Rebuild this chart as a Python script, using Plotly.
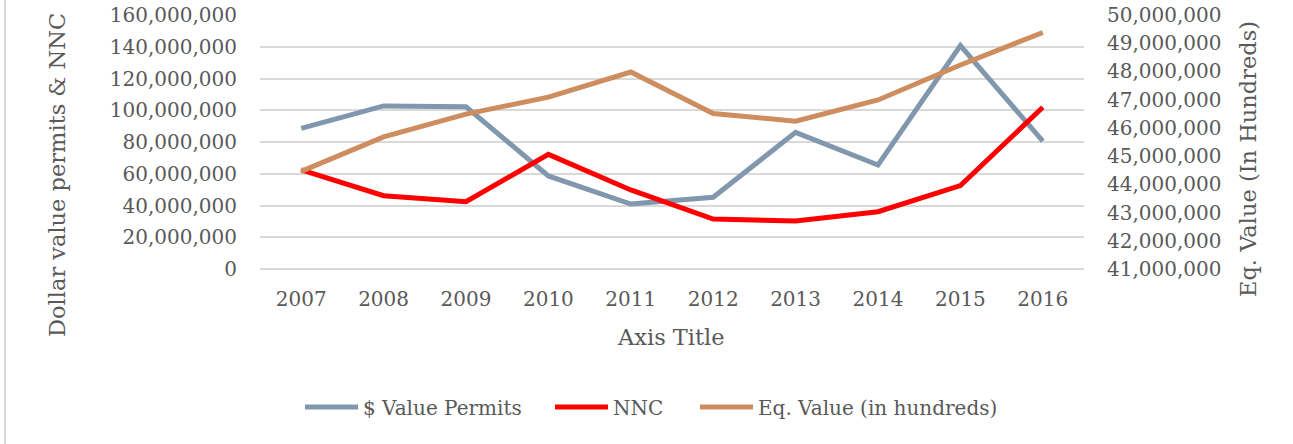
import plotly.graph_objects as go

years = ["2007", "2008", "2009", "2010", "2011", "2012", "2013", "2014", "2015", "2016"]
value_permits = [88600000, 102700000, 102200000, 58600000, 40900000, 45200000, 86100000, 65500000, 140700000, 80600000]
nnc = [62400000, 46200000, 42400000, 72200000, 49800000, 31500000, 30200000, 36100000, 52500000, 101900000]
eq_value = [44460000, 45680000, 46490000, 47090000, 47980000, 46510000, 46240000, 46990000, 48230000, 49380000]

FONT = "DejaVu Serif, Liberation Serif, serif"
TXT = "#595959"

W, H = 1293, 444
L, R, T, B = 260, 209, 15, 175
PW, PH = W - L - R, H - T - B


def px_x(px):
    return (px - L) / PW


def px_y(py):
    return ((T + PH) - py) / PH


fig = go.Figure()
fig.add_trace(go.Scatter(x=years, y=value_permits, name="$ Value Permits", mode="lines",
                         line=dict(color="#8097AD", width=5), legend="legend"))
fig.add_trace(go.Scatter(x=years, y=nnc, name="NNC", mode="lines",
                         line=dict(color="#FF0000", width=5), legend="legend2"))
fig.add_trace(go.Scatter(x=years, y=eq_value, name="Eq. Value (in hundreds)", mode="lines",
                         line=dict(color="#CD8D5F", width=5), yaxis="y2", legend="legend3"))

leg_common = dict(orientation="h", xanchor="left", yanchor="middle", itemwidth=53,
                  font=dict(size=20, color=TXT), bgcolor="rgba(0,0,0,0)")

fig.update_layout(
    width=W, height=H,
    margin=dict(l=L, r=R, t=T, b=B, autoexpand=False),
    paper_bgcolor="white", plot_bgcolor="white",
    font=dict(family=FONT, size=20, color=TXT),
    xaxis=dict(type="category", range=[-0.5, 9.5], showgrid=False, zeroline=False,
               showline=False, ticks="", ticklabelstandoff=16,
               tickfont=dict(size=20, color=TXT)),
    yaxis=dict(range=[0, 160000000], dtick=20000000, tickformat=",d",
               showgrid=True, gridcolor="#D9D9D9", gridwidth=1.5,
               zeroline=True, zerolinecolor="#D9D9D9", zerolinewidth=1.5,
               showline=False, ticks="", ticklabelstandoff=22,
               tickfont=dict(size=20, color=TXT)),
    yaxis2=dict(range=[41000000, 50000000], dtick=1000000, tickformat=",d",
                overlaying="y", side="right", showgrid=False, zeroline=False,
                showline=False, ticks="", ticklabelstandoff=22,
                tickfont=dict(size=20, color=TXT)),
    showlegend=True,
    legend=dict(x=px_x(305 - 5), y=px_y(407), **leg_common),
    legend2=dict(x=px_x(555 - 5), y=px_y(407), **leg_common),
    legend3=dict(x=px_x(700 - 5), y=px_y(407), **leg_common),
    annotations=[
        dict(text="Axis Title", xref="paper", yref="paper",
             x=px_x(671), y=px_y(337), xanchor="center", yanchor="middle",
             showarrow=False, font=dict(size=22.5, color=TXT)),
        dict(text="Dollar value permits & NNC", xref="paper", yref="paper",
             x=px_x(57), y=px_y(175), xanchor="center", yanchor="middle",
             textangle=-90, showarrow=False, font=dict(size=22.5, color=TXT)),
        dict(text="Eq. Value (In Hundreds)", xref="paper", yref="paper",
             x=px_x(1248), y=px_y(159), xanchor="center", yanchor="middle",
             textangle=-90, showarrow=False, font=dict(size=22.5, color=TXT)),
    ],
    shapes=[
        dict(type="line", xref="paper", yref="paper",
             x0=px_x(5), x1=px_x(5), y0=px_y(0), y1=px_y(444),
             line=dict(color="#D9D9D9", width=2)),
    ],
)

fig.write_html("out.html", config={"displayModeBar": False},
               post_script="document.body.style.margin='0';document.body.style.padding='0';")
